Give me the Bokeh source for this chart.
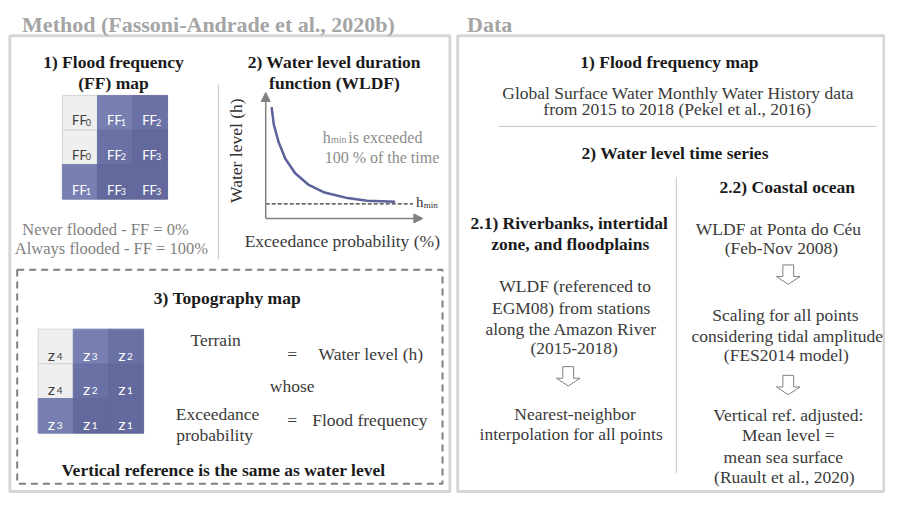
import math
from bokeh.plotting import figure
from bokeh.models import Range1d, Arrow, NormalHead, ColumnDataSource, Label
from bokeh.embed import file_html
from bokeh.resources import INLINE

SERIF = "Liberation Serif"
SANS = "Lato"

# ---------------- data ----------------
ff_grid = [[0, 1, 2], [0, 2, 3], [1, 3, 3]]          # flood frequency classes
z_grid = [[4, 3, 2], [4, 2, 1], [3, 1, 1]]           # elevation classes
class_shades = ["#efefef", "#7880b1", "#6a71a5", "#63699c"]   # FF0..FF3
z_to_class = {4: 0, 3: 1, 2: 2, 1: 3}

wldf_x = [276, 278.3, 283.3, 290, 300, 313.3, 330, 353.3, 373.3, 401.7]
wldf_y = [110, 128.3, 146.7, 163.3, 178.3, 190, 198.3, 204, 206.7, 207.7]

left_title = "Method (Fassoni-Andrade et al., 2020b)"
right_title = "Data"

bold_texts = [
    ("1) Flood frequency", 115, 63),
    ("(FF) map", 115, 85),
    ("2) Water level duration", 340, 63),
    ("function (WLDF)", 340, 85),
    ("3) Topography map", 231, 307),
    ("Vertical reference is the same as water level", 227, 485),
    ("1) Flood frequency map", 681, 63),
    ("2) Water level time series", 687, 157),
    ("2.2) Coastal ocean", 801, 193),
    ("2.1) Riverbanks, intertidal", 579, 230),
    ("zone, and floodplains", 580, 251),
]

body_texts = [
    ("Global Surface Water Monthly Water History data", 690, 95),
    ("from 2015 to 2018 (Pekel et al., 2016)", 689, 112),
    ("WLDF at Ponta do Céu", 792, 236),
    ("(Feb-Nov 2008)", 795, 256),
    ("WLDF (referenced to", 585, 295),
    ("EGM08) from stations", 581, 317),
    ("along the Amazon River", 581, 339),
    ("(2015-2018)", 584, 359),
    ("Nearest-neighbor", 585, 427),
    ("interpolation for all points", 581, 448),
    ("Scaling for all points", 799, 325),
    ("considering tidal amplitude", 801, 346),
    ("(FES2014 model)", 800, 366),
    ("Vertical ref. adjusted:", 802, 428),
    ("Mean level =", 802, 449),
    ("mean sea surface", 797, 471),
    ("(Ruault et al., 2020)", 798, 492),
    ("Terrain", 219, 351),
    ("=", 297, 365),
    ("Water level (h)", 377, 365),
    ("whose", 297, 398),
    ("Exceedance", 221, 427),
    ("probability", 218, 449),
    ("=", 297, 433),
    ("Flood frequency", 376, 433),
    ("Exceedance probability (%)", 348, 248),
]

gray_texts = [
    ("Never flooded -  FF = 0%", 109, 236),
    ("Always flooded -  FF = 100%", 115, 256),
]

down_arrows = [(578, 378), (802, 273), (802, 387)]

# ---------------- figure ----------------
p = figure(width=885, height=494, x_range=Range1d(0, 901), y_range=Range1d(510, 0),
           output_backend="svg", toolbar_location=None, min_border=0)
p.axis.visible = False
p.grid.visible = False
p.outline_line_color = None


def txt(t, x, y, size, color, font=SERIF, style="normal", align="center",
        baseline="alphabetic", angle=0.0):
    p.add_layout(Label(x=x, y=y, text=t, text_font=font, text_font_size=size,
                       text_font_style=style, text_color=color, text_align=align,
                       text_baseline=baseline, angle=angle))


# outer boxes
p.quad(left=[9.5, 465.5], right=[457.5, 899.5], top=[36.5, 36.5], bottom=[507, 507],
       fill_color=None, line_color="#d6d6d6", line_width=3)

# titles
txt(left_title, 22, 25, "22px", "#a5a5a5", style="bold", align="left")
txt(right_title, 475, 25, "22px", "#a5a5a5", style="bold", align="left")

# dividers
p.segment(x0=[222, 507, 688], y0=[87, 130, 182], x1=[222, 892, 688], y1=[267, 130, 488],
          line_color="#c8c8c8", line_width=1)

# dashed topography box
p.quad(left=[17], right=[450], top=[278], bottom=[499], fill_color=None,
       line_color="#7f7f7f", line_width=2, line_dash="7 5")

# cell grids
cell_x, cell_y, cell_w, cell_fill, cell_line = [], [], [], [], []
cell_labels = []


def grid(values, left, top, cell, label, lsize, ssize, lx, sx, classes):
    for i, row in enumerate(values):
        for j, v in enumerate(row):
            cx = left + (j + 0.5) * cell
            cy = top + (i + 0.5) * cell
            c = classes(v)
            col = class_shades[c]
            cell_x.append(cx)
            cell_y.append(cy)
            cell_w.append(cell)
            cell_fill.append(col)
            cell_line.append("#d4d4d4" if c == 0 else col)
            tc = "#404040" if c == 0 else "#ffffff"
            cell_labels.append((label, cx + lx, cy + 8, lsize, tc))
            cell_labels.append((str(v), cx + sx, cy + 10, ssize, tc))


grid(ff_grid, 63.0, 98.0, 35.7, "FF", "13px", "9px", -8, 6, lambda v: v)
grid(z_grid, 38.3, 339.3, 35.8, "z", "16px", "10px", -8, 1, lambda v: z_to_class[v])
p.rect(x="x", y="y", width="w", height="w", fill_color="fill", line_color="line", line_width=1,
       source=ColumnDataSource(dict(x=cell_x, y=cell_y, w=cell_w, fill=cell_fill, line=cell_line)))

# WLDF axes
axis_col = "#808080"
for (xs, ys, xe, ye) in [(270, 225, 270, 95), (270, 225, 430, 225)]:
    p.add_layout(Arrow(end=NormalHead(size=9, fill_color=axis_col, line_color=axis_col),
                       x_start=xs, y_start=ys, x_end=xe, y_end=ye,
                       line_color=axis_col, line_width=1.5))
p.line(x=[270, 420], y=[210, 210], line_color="black", line_width=1, line_dash="4 2")
p.line(x=wldf_x, y=wldf_y, line_color="#5b6199", line_width=2.5)

# hollow down arrows
ax, ay = [], []
for cx, ty in down_arrows:
    ax.append([cx - 5.5, cx + 5.5, cx + 5.5, cx + 12, cx, cx - 12, cx - 5.5])
    ay.append([ty, ty, ty + 12, ty + 12, ty + 20, ty + 12, ty + 12])
p.patches(xs=ax, ys=ay, fill_color="white", line_color="#808080", line_width=1)

# texts
for t, x, y, s, c in cell_labels:
    txt(t, x, y, s, c, font=SANS, align="left")

txt("Water level (h)", 240, 155, "17.5px", "#333333", angle=math.pi / 2, baseline="middle")
txt("h", 423, 208, "15px", "#333333", align="left")
txt("min", 431, 211, "9px", "#333333", align="left")
txt("h", 328, 141, "16px", "#8c8c8c", align="left")
txt("min", 336.5, 144, "10px", "#8c8c8c", align="left")
txt("is exceeded", 354, 141, "16px", "#8c8c8c", align="left")
txt("100 % of the time", 330, 162, "16px", "#8c8c8c", align="left")

for t, x, y in bold_texts:
    txt(t, x, y, "17.5px", "#1a1a1a", style="bold")
for t, x, y in body_texts:
    txt(t, x, y, "17.5px", "#3a3a3a")
for t, x, y in gray_texts:
    txt(t, x, y, "16.5px", "#7f7f7f")

open("out.html", "w").write(file_html(p, INLINE))
